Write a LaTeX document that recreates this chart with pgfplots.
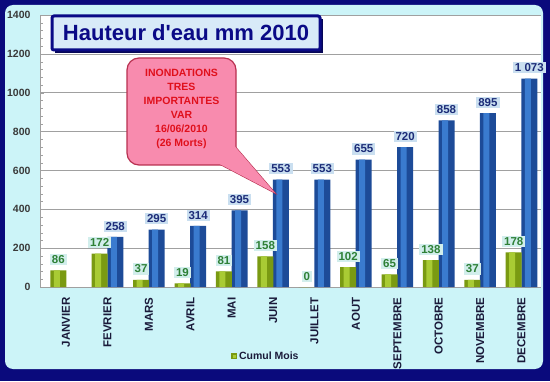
\documentclass[border=0pt]{standalone}
\usepackage{pgfplots}
\pgfplotsset{compat=1.18}
\usepackage{fontspec}
\setmainfont{Liberation Sans}
\newfontfamily\plainfont{Liberation Sans}
\definecolor{navyframe}{HTML}{0A0A7C}
\definecolor{panel}{HTML}{CCF4F8}
\definecolor{gridgray}{HTML}{A0A0A0}
\definecolor{blueD}{HTML}{1D4B98}
\definecolor{blueM}{HTML}{3A7BCF}
\definecolor{greenD}{HTML}{7A9A12}
\definecolor{greenM}{HTML}{A9CB34}
\definecolor{gtext}{HTML}{2E8036}
\definecolor{gbox}{HTML}{D2EEEC}
\definecolor{btext}{HTML}{1C2C78}
\definecolor{bbox}{HTML}{CADFF0}
\definecolor{pinkfill}{HTML}{F88BAE}
\definecolor{pinkdraw}{HTML}{B83050}
\definecolor{calltext}{HTML}{E0101C}
\definecolor{titlefill}{HTML}{D8EAF8}
\definecolor{titlenavy}{HTML}{0A0A86}
\definecolor{xlab}{HTML}{1A1A3A}
\definecolor{ylab}{HTML}{3A3A3A}

\pgfplotstableread{
x y
0 86
1 172
2 37
3 19
4 81
5 158
6 0
7 102
8 65
9 138
10 37
11 178
}\moisdata

\pgfplotstableread{
x y
1 258
2 295
3 314
4 395
5 553
6 553
7 655
8 720
9 858
10 895
11 1073
}\cumuldata

\begin{document}
\begin{tikzpicture}[x=1pt,y=1pt]
\useasboundingbox (0,0) rectangle (550,381);
\fill[navyframe] (0,0) rectangle (550,381);
\fill[panel, rounded corners=8pt] (5,12) rectangle (543,376);
\fill[white] (40,94) rectangle (541,366);
\begin{axis}[
  at={(40pt,94pt)}, anchor=south west,
  scale only axis, width=501pt, height=272pt,
  xmin=-0.63, xmax=11.47, ymin=0, ymax=1400,
  axis x line*=bottom, axis y line*=left,
  axis line style={gridgray},
  /pgf/number format/assume math mode=true,
  ytick={0,200,...,1400},
  minor y tick num=4,
  ymajorgrids, major grid style={gridgray, line width=0.6pt},
  tick align=inside,
  major tick length=4pt, minor tick length=2.5pt,
  ytick style={gridgray},
  yticklabel style={font=\bfseries\fontsize{10.5}{12}\selectfont, text=ylab, xshift=-6pt,
    /pgf/number format/1000 sep={}},
  xtick={0,...,11},
  xtick style={draw=none},
  xticklabels={JANVIER,FEVRIER,MARS,AVRIL,MAI,JUIN,JUILLET,AOUT,SEPTEMBRE,OCTOBRE,NOVEMBRE,DECEMBRE},
  xticklabel style={rotate=90, anchor=east, font=\bfseries\fontsize{11.5}{12}\selectfont, text=xlab, xshift=-7pt},
  legend style={at={(0.375,-0.255)}, anchor=west, draw=none, fill=none,
    font=\bfseries\fontsize{10.5}{12}\selectfont, text=xlab},
  legend image code/.code={\fill[greenD] (0pt,-3pt) rectangle (6pt,3pt);\fill[greenM] (1.5pt,-1.5pt) rectangle (4.5pt,1.5pt);},
  clip=false,
]
% blue bars (cumulative)
\addplot[ybar, bar width=16pt, bar shift=7.8pt, draw=none, fill=blueD, forget plot]
  table[x=x,y=y] {\cumuldata};
\addplot[ybar, bar width=6pt, bar shift=6.3pt, draw=none, fill=blueM, forget plot]
  table[x=x,y=y] {\cumuldata};
% green bars (monthly)
\addplot[ybar, bar width=16pt, bar shift=-7.8pt, draw=none, fill=greenD]
  table[x=x,y=y] {\moisdata};
\addlegendentry{Cumul Mois}
\addplot[ybar, bar width=6pt, bar shift=-9.3pt, draw=none, fill=greenM, forget plot]
  table[x=x,y=y] {\moisdata};
% labels
\addplot[draw=none, mark=none, forget plot,
  nodes near coords, /pgf/number format/1000 sep={\ },
  nodes near coords style={font=\bfseries\fontsize{11.5}{12}\selectfont, text=btext,
    fill=bbox, inner xsep=2pt, inner ysep=1.5pt, anchor=south, yshift=5pt, xshift=7.8pt}]
  table[x=x,y=y] {\cumuldata};
\addplot[draw=none, mark=none, forget plot,
  nodes near coords,
  nodes near coords style={font=\bfseries\fontsize{11.5}{12}\selectfont, text=gtext,
    fill=gbox, inner xsep=2pt, inner ysep=1.5pt, anchor=south, yshift=5pt, xshift=-7.8pt}]
  table[x=x,y=y] {\moisdata};
\end{axis}
% title box
\fill[navyframe!70!black] (55,328) rectangle (323,362);
\draw[titlenavy, line width=3pt, fill=titlefill, rounded corners=2pt] (52,331) rectangle (320,365);
\node[text=titlenavy, font=\plainfont\bfseries\fontsize{22}{24}\selectfont] at (186,348) {Hauteur d'eau mm 2010};
% callout
\filldraw[fill=pinkfill, draw=pinkdraw, line width=1.2pt] (210,222) -- (275,188) -- (232,238) -- cycle;
\filldraw[fill=pinkfill, draw=pinkdraw, line width=1.2pt, rounded corners=12pt] (127,216) rectangle (236,323);
\fill[pinkfill] (210,222) -- (275,188) -- (232,238) -- cycle;
\node[text=calltext, font=\bfseries\fontsize{10.5}{14}\selectfont, align=center] at (181.5,272)
  {INONDATIONS\\TRES\\IMPORTANTES\\VAR\\16/06/2010\\(26 Morts)};
\end{tikzpicture}
\end{document}
